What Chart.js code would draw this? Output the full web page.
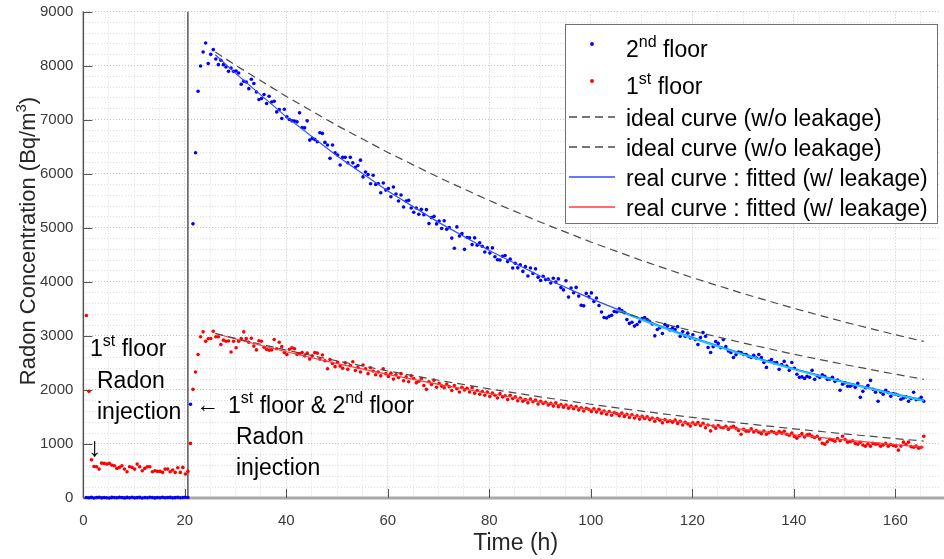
<!DOCTYPE html>
<html>
<head>
<meta charset="utf-8">
<script src="https://cdn.jsdelivr.net/npm/chart.js@4.4.1/dist/chart.umd.min.js"></script>
<style>
  html, body { margin: 0; padding: 0; background: #ffffff; }
  #c { display: block; }
</style>
</head>
<body>
<canvas id="c" width="944" height="559"></canvas>
<script>
// Sampling: one reading every half hour, starting at 0.6 h
const START_HOUR = 0.6;
const STEP_HOUR = 0.5;

// 2nd floor radon readings (Bq/m3)
const floor2 = [
  10,5,12,0,8,15,3,10,6,0, 12,8,4,15,9,2,11,6,14,3, 7,12,0,9,5,13,8,2,10,6, 15,4,9,11,3,7,12,5,8,14,
  10,
  1734,5072,6387,7525,7992,8250,8416,8036,8207,8294,
  8121,8017,8097,8017,7973,7893,7955,7893,7900,7862,
  7654,7709,7696,7573,7746,7667,7512,7372,7390,7464,
  7298,7432,7327,7340,7143,7187,7021,7193,7051,7003,
  6977,6972,6959,7125,6855,6848,6977,6621,6652,6634,
  6590,6756,6745,6578,6529,6283,6529,6387,6345,6160,
  6302,6302,6202,6302,6200,6120,6150,6250,5940,6030,
  5984,5813,5972,5800,5819,5648,5827,5696,5724,5573,
  5753,5623,5494,5604,5384,5495,5505,5365,5286,5366,
  5248,5340,5242,5334,5076,5187,5209,5071,5123,4985,
  5128,4971,5005,4808,4620,5015,4848,4892,4600,4819,
  4813,4688,4813,4678,4723,4658,4552,4627,4532,4627,
  4462,4408,4404,4471,4487,4373,4419,4255,4342,4258,
  4315,4192,4280,4107,4254,4152,4239,4086,4024,4101,
  4040,4049,3977,4066,3994,4053,3892,3850,4019,3717,
  3886,3796,3896,3735,3565,3555,3785,3724,3794,3634,
  3700,3560,3440,3340,3330,3360,3380,3450,3440,3500,
  3470,3430,3300,3230,3250,3180,3210,3260,3320,3340,
  3300,3260,3220,3000,3117,3150,3043,3209,3180,3110,
  3150,3117,3170,2990,3080,2990,3050,2960,3020,2930,
  2840,2970,3060,2990,2785,2693,2800,2895,2860,2780,
  2930,2800,2720,2693,2600,2650,2700,2693,2656,2656,
  2620,2600,2640,2590,2656,2600,2508,2416,2527,2560,
  2500,2508,2380,2471,2527,2440,2361,2508,2400,2290,
  2232,2240,2213,2250,2232,2361,2195,2260,2232,2280,
  2250,2195,2200,2232,2158,2180,1992,2103,2130,2066,
  2066,2090,2047,2120,1862,1973,2040,2080,2176,2010,
  1955,1789,1960,1918,1992,1950,1881,1930,1918,1900,
  1826,1850,1870,1789,1840,1955,1820,1826,1862,1789
];

// 1st floor radon readings (Bq/m3)
const floor1 = [
  3375,1973,706,584,578,535,645,640,627,640, 609,596,548,566,596,535,485,578,566,535,
  627,578,504,548,578,578,485,504,492,492, 474,535,535,485,517,474,560,474,566,443,
  492,
  1010,2010,2330,2655,2982,3074,2901,2945,2951,3086,
  2982,2982,2840,2920,2900,2905,2700,2900,2780,2900,
  2950,3074,2950,2880,2955,2810,2740,2910,2900,2790,
  2750,2735,2740,2933,2760,2880,2800,2690,2655,2750,
  2780,2760,2655,2670,2690,2630,2680,2570,2630,2690,
  2680,2570,2645,2540,2390,2560,2490,2430,2510,2440,
  2400,2500,2380,2450,2520,2360,2420,2330,2460,2390,
  2300,2410,2350,2280,2330,2260,2390,2300,2250,2310,
  2200,2280,2230,2300,2170,2240,2150,2260,2210,2130,
  2160,2210,2080,2010,2150,2100,2180,2050,2120,2070,
  2040,2110,2060,1990,2080,2020,1960,2050,2000,2030,
  1960,2040,1940,1990,1920,1970,1900,1960,1880,1940,
  1900,1850,1930,1870,1890,1820,1900,1840,1870,1800,
  1850,1790,1820,1760,1830,1780,1810,1740,1790,1750,
  1770,1720,1750,1700,1760,1690,1730,1680,1720,1660,
  1700,1650,1690,1630,1670,1610,1660,1640,1600,1650,
  1590,1640,1570,1610,1550,1600,1530,1580,1560,1520,
  1570,1510,1550,1490,1540,1480,1520,1460,1510,1470,
  1500,1450,1480,1420,1470,1440,1390,1450,1410,1430,
  1400,1440,1380,1420,1350,1400,1370,1330,1390,1360,
  1396,1340,1380,1300,1350,1241,1330,1290,1340,1309,
  1300,1328,1270,1310,1328,1290,1250,1180,1270,1236,
  1236,1280,1220,1250,1217,1190,1240,1180,1210,1230,
  1217,1190,1230,1200,1236,1180,1160,1200,1140,1107,
  1150,1190,1130,1170,1180,1140,1120,1143,1090,1014,
  996,1040,1088,1070,1051,1100,1060,1143,1080,1033,
  1040,1060,1010,996,1030,980,959,1000,959,1010,
  996,1000,959,980,1010,959,990,970,959,885,
  960,1033,990,1033,950,940,960,922,940,1143
];

// Decay curves after the second injection
const curveHours = [26, 30, 40, 50, 60, 70, 80, 90, 100, 110, 120, 130, 140, 150, 160, 165.6];
const ideal2 = [8250, 8006, 7428, 6891, 6393, 5931, 5503, 5105, 4736, 4394, 4076, 3782, 3509, 3255, 3020, 2896];
const ideal1 = [3043, 2952, 2736, 2536, 2350, 2178, 2019, 1871, 1734, 1607, 1490, 1381, 1280, 1186, 1099, 1053];
const fitted2 = [8200, 7855, 7050, 6328, 5680, 5099, 4577, 4108, 3688, 3310, 2971, 2667, 2394, 2149, 1929, 1815];
const fitted1 = [3043, 2942, 2705, 2487, 2287, 2103, 1933, 1778, 1634, 1503, 1382, 1270, 1168, 1074, 987, 942];

// Late-period curves for the 2nd floor
const lateHours = [105.3, 110, 120, 130, 140, 150, 160, 165.6];
const lateIdeal2 = [3450, 3331, 3090, 2867, 2660, 2468, 2290, 2195];
const lateFitted2 = [3467, 3295, 2956, 2652, 2379, 2134, 1914, 1800];

const injectionHour = 20.6;
const xTicks = [0, 20, 40, 60, 80, 100, 120, 140, 160];
const yTicks = [0, 1000, 2000, 3000, 4000, 5000, 6000, 7000, 8000, 9000];

const FONT = '"Liberation Sans", Arial, Helvetica, sans-serif';
const BLUE = '#0000ff', RED = '#ff0000', DASH = '#4a4a4a';
const FIT_BLUE = '#2f4dff', FIT_RED = '#ff3a3a', CYAN = '#19c6ff';

const hours = floor2.map((_, i) => START_HOUR + i * STEP_HOUR);
const pts = (xs, ys) => ys.map((v, i) => ({ x: xs[i], y: v }));

function richText(ctx, x, y, parts, size) {
  let cx = x;
  for (const [t, sup] of parts) {
    const s = sup ? Math.round(size * 0.68) : size;
    ctx.font = s + 'px ' + FONT;
    ctx.fillText(t, cx, sup ? y - size * 0.42 : y);
    cx += ctx.measureText(t).width;
  }
  return cx - x;
}
function richWidth(ctx, parts, size) {
  let w = 0;
  for (const [t, sup] of parts) {
    ctx.font = (sup ? Math.round(size * 0.68) : size) + 'px ' + FONT;
    w += ctx.measureText(t).width;
  }
  return w;
}

const overlay = {
  id: 'overlay',
  beforeDatasetsDraw(chart) {
    const { ctx, chartArea: a, scales: { x, y } } = chart;
    ctx.save();
    // bottom axis
    ctx.strokeStyle = '#a9a9a9';
    ctx.lineWidth = 3;
    ctx.beginPath(); ctx.moveTo(a.left, a.bottom); ctx.lineTo(chart.width, a.bottom); ctx.stroke();
    // left axis
    ctx.strokeStyle = '#555555';
    ctx.lineWidth = 1.5;
    ctx.beginPath(); ctx.moveTo(a.left, a.top); ctx.lineTo(a.left, a.bottom); ctx.stroke();
    // inward tick marks
    ctx.lineWidth = 1;
    ctx.strokeStyle = '#555555';
    ctx.beginPath();
    xTicks.forEach(v => { const p = Math.round(x.getPixelForValue(v)) + 0.5; ctx.moveTo(p, a.bottom); ctx.lineTo(p, a.bottom - 9); });
    yTicks.forEach(v => { const p = Math.round(y.getPixelForValue(v)) + 0.5; ctx.moveTo(a.left, p); ctx.lineTo(a.left + 9, p); });
    ctx.stroke();
    ctx.restore();
  },
  afterDraw(chart) {
    const { ctx, chartArea: a } = chart;
    ctx.save();
    ctx.textBaseline = 'alphabetic';
    ctx.textAlign = 'left';

    // axis titles
    ctx.fillStyle = '#262626';
    const yTitle = [['Radon Concentration (Bq/m', false], ['3', true], [')', false]];
    const tw = richWidth(ctx, yTitle, 22);
    ctx.save();
    ctx.translate(35, 241);
    ctx.rotate(-Math.PI / 2);
    richText(ctx, -tw / 2, 0, yTitle, 22);
    ctx.restore();
    ctx.font = '23px ' + FONT;
    ctx.textAlign = 'center';
    ctx.fillText('Time (h)', (a.left + chart.width) / 2 + 2, 550);
    ctx.textAlign = 'left';

    // annotations
    ctx.fillStyle = '#000000';
    richText(ctx, 90, 356, [['1', false], ['st', true], [' floor', false]], 23);
    ctx.font = '23px ' + FONT;
    ctx.fillText('Radon', 97, 388);
    ctx.fillText('injection', 97, 419);
    ctx.font = '27px ' + FONT;
    ctx.fillText('\u2193', 88, 456);
    ctx.font = '23px ' + FONT;
    ctx.fillText('\u2190', 196, 412);
    richText(ctx, 228, 413, [['1', false], ['st', true], [' floor & 2', false], ['nd', true], [' floor', false]], 23);
    ctx.font = '23px ' + FONT;
    ctx.fillText('Radon', 236, 444);
    ctx.fillText('injection', 236, 475);

    // legend box
    const L = { x: 565, y: 24, w: 372, h: 199 };
    ctx.fillStyle = '#ffffff';
    ctx.fillRect(L.x, L.y, L.w, L.h);
    ctx.strokeStyle = '#707070';
    ctx.lineWidth = 1;
    ctx.strokeRect(L.x + 0.5, L.y + 0.5, L.w, L.h);

    const tx = 626;
    const rows = [
      { kind: 'dot', color: BLUE, base: 57, parts: [['2', false], ['nd', true], [' floor', false]] },
      { kind: 'dot', color: RED, base: 94, parts: [['1', false], ['st', true], [' floor', false]] },
      { kind: 'dash', color: DASH, base: 126, parts: [['ideal curve (w/o leakage)', false]] },
      { kind: 'dash', color: DASH, base: 156, parts: [['ideal curve (w/o leakage)', false]] },
      { kind: 'line', color: FIT_BLUE, base: 186, parts: [['real curve : fitted (w/ leakage)', false]] },
      { kind: 'line', color: FIT_RED, base: 216, parts: [['real curve : fitted (w/ leakage)', false]] }
    ];
    rows.forEach(r => {
      const cy = r.base - 9;
      if (r.kind === 'dot') {
        ctx.fillStyle = r.color;
        ctx.beginPath(); ctx.arc(592, cy - 4, 1.9, 0, Math.PI * 2); ctx.fill();
      } else {
        ctx.strokeStyle = r.color;
        ctx.lineWidth = 1.5;
        ctx.setLineDash(r.kind === 'dash' ? [8, 5] : []);
        ctx.beginPath(); ctx.moveTo(569, cy); ctx.lineTo(615, cy); ctx.stroke();
        ctx.setLineDash([]);
      }
      ctx.fillStyle = '#000000';
      richText(ctx, tx, r.base, r.parts, 23);
    });
    ctx.restore();
  }
};

new Chart(document.getElementById('c'), {
  type: 'scatter',
  data: {
    datasets: [
      { label: '2nd floor', data: pts(hours, floor2), pointRadius: 1.8, pointBorderWidth: 0, backgroundColor: BLUE, showLine: false, clip: 4, order: 3 },
      { label: '1st floor', data: pts(hours, floor1), pointRadius: 1.8, pointBorderWidth: 0, backgroundColor: RED, showLine: false, clip: 4, order: 4 },
      { type: 'line', label: 'ideal curve (w/o leakage)', data: pts(curveHours, ideal2), borderColor: DASH, borderWidth: 1.2, borderDash: [8, 5], pointRadius: 0, fill: false, tension: 0, order: 1 },
      { type: 'line', label: 'ideal curve (w/o leakage)', data: pts(curveHours, ideal1), borderColor: DASH, borderWidth: 1.2, borderDash: [8, 5], pointRadius: 0, fill: false, tension: 0, order: 1 },
      { type: 'line', label: 'real curve : fitted (w/ leakage)', data: pts(curveHours, fitted2), borderColor: FIT_BLUE, borderWidth: 1.2, pointRadius: 0, fill: false, tension: 0, order: 2 },
      { type: 'line', label: 'real curve : fitted (w/ leakage)', data: pts(curveHours, fitted1), borderColor: FIT_RED, borderWidth: 1.2, pointRadius: 0, fill: false, tension: 0, order: 2 },
      { type: 'line', label: 'late ideal', data: pts(lateHours, lateIdeal2), borderColor: DASH, borderWidth: 1.2, borderDash: [8, 5], pointRadius: 0, fill: false, tension: 0, order: 0 },
      { type: 'line', label: 'late fitted', data: pts(lateHours, lateFitted2), borderColor: CYAN, borderWidth: 2, pointRadius: 0, fill: false, tension: 0, order: 0 },
      { type: 'line', label: 'injection', data: [{ x: injectionHour, y: 0 }, { x: injectionHour, y: 9000 }], borderColor: '#3c3c3c', borderWidth: 1.3, pointRadius: 0, fill: false, order: 5 }
    ]
  },
  options: {
    responsive: false,
    animation: false,
    events: [],
    layout: { padding: { left: 30, right: 0, top: 0, bottom: 15 } },
    plugins: { legend: { display: false }, tooltip: { enabled: false } },
    scales: {
      x: {
        type: 'linear', min: 0, max: 168.8,
        border: { display: false, dash: [1, 2] },
        grid: { drawTicks: false, lineWidth: 1, color: c => (Math.abs(c.tick.value % 20) < 1e-6 ? '#c2c2c2' : '#dcdcdc') },
        ticks: {
          stepSize: 5, autoSkip: false, includeBounds: false, maxRotation: 0, minRotation: 0, padding: 14,
          color: '#3a3a3a', font: { family: FONT, size: 15 },
          callback: v => (Math.abs(v % 20) < 1e-6 ? String(Math.round(v)) : '')
        }
      },
      y: {
        type: 'linear', min: 0, max: 9000,
        border: { display: false, dash: [1, 2] },
        grid: { drawTicks: false, lineWidth: 1, color: c => (Math.abs(c.tick.value % 1000) < 1e-6 ? '#c2c2c2' : '#dcdcdc') },
        ticks: {
          stepSize: 200, autoSkip: false, padding: 10,
          color: '#3a3a3a', font: { family: FONT, size: 15, lineHeight: 0.2 },
          callback: v => (Math.abs(v % 1000) < 1e-6 ? String(Math.round(v)) : '')
        }
      }
    }
  },
  plugins: [overlay]
});
</script>
</body>
</html>
